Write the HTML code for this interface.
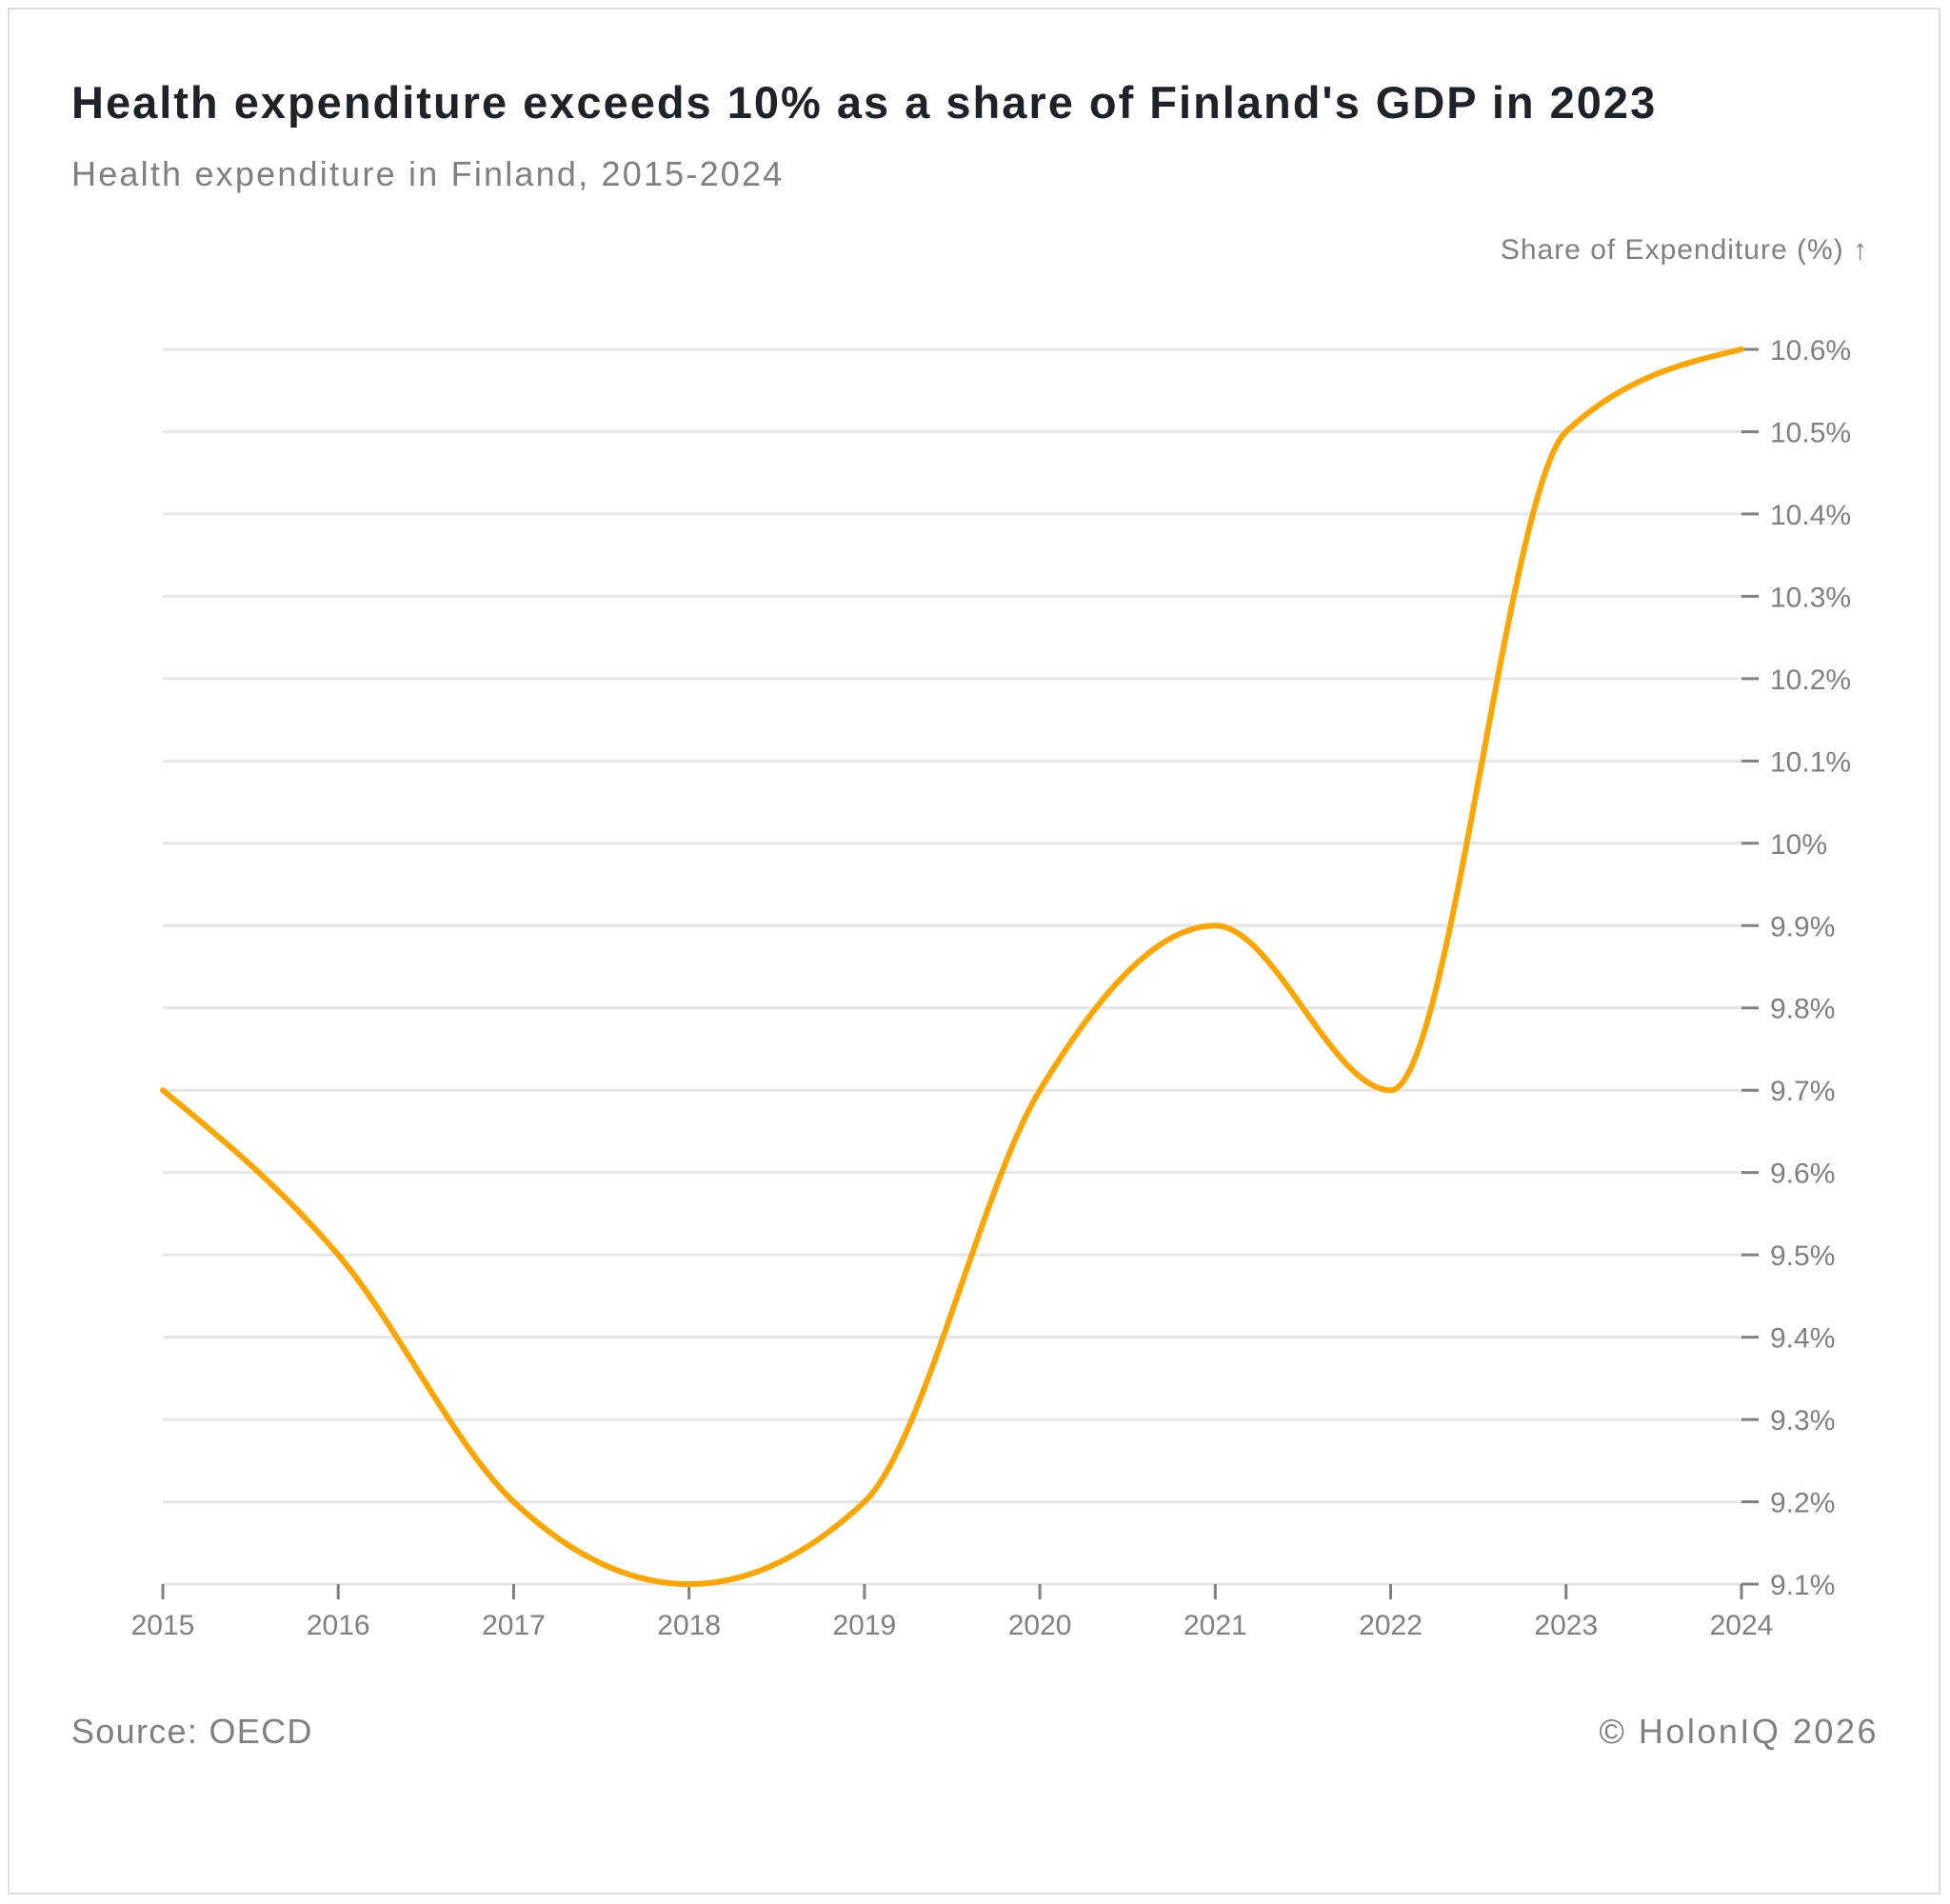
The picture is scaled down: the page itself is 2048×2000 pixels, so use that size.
<!DOCTYPE html>
<html><head><meta charset="utf-8"><style>
html,body{margin:0;padding:0;background:#fff;}
body{width:2048px;height:2000px;position:relative;font-family:"Liberation Sans",Arial,sans-serif;}
.frame{position:absolute;left:8px;top:8px;width:2030px;height:1982px;border:2px solid #ddd;box-sizing:border-box;}
.t{position:absolute;white-space:nowrap;}
</style></head><body>
<div class="frame"></div>
<div class="t" style="left:75px;top:80px;font-size:47px;font-weight:bold;color:#1f2328;letter-spacing:2px;">Health expenditure exceeds 10% as a share of Finland's GDP in 2023</div>
<div class="t" style="left:75px;top:162px;font-size:36px;color:#808080;letter-spacing:2.2px;">Health expenditure in Finland, 2015-2024</div>
<div class="t" style="left:75px;top:1798px;font-size:36px;color:#808080;letter-spacing:1.3px;">Source: OECD</div>
<div class="t" style="right:75px;top:1798px;font-size:36px;color:#808080;letter-spacing:2.5px;">© HolonIQ 2026</div>
<svg id="chart" width="2048" height="2000" style="position:absolute;left:0;top:0"></svg>
<script>
const years=[2015,2016,2017,2018,2019,2020,2021,2022,2023,2024];
const values=[9.7,9.5,9.2,9.1,9.2,9.7,9.9,9.7,10.5,10.6];
const yTicks=[9.1,9.2,9.3,9.4,9.5,9.6,9.7,9.8,9.9,10.0,10.1,10.2,10.3,10.4,10.5,10.6];
const yTickLabels=["9.1%","9.2%","9.3%","9.4%","9.5%","9.6%","9.7%","9.8%","9.9%","10%","10.1%","10.2%","10.3%","10.4%","10.5%","10.6%"];
const NS="http://www.w3.org/2000/svg";
const svg=document.getElementById('chart');
const X0=171,X1=1829,Y0=1664,Y1=367;
const xs=v=>X0+(v-2015)/(2024-2015)*(X1-X0);
const ys=v=>Y0-(v-9.1)/(10.6-9.1)*(Y0-Y1);
function mk(tag,attrs){const e=document.createElementNS(NS,tag);for(const k in attrs)e.setAttribute(k,attrs[k]);svg.appendChild(e);return e;}
yTicks.forEach((t,i)=>{
  const y=ys(t);
  const g=mk('line',{x1:X0,x2:X1,y1:y,y2:y,stroke:'#e6e6e6','stroke-width':3});
  
  
  const tk=mk('line',{x1:X1,x2:1847,y1:y,y2:y,stroke:'#808080','stroke-width':3});
  
  
  const tx=mk('text',{x:1859,y:y+11,'font-size':30,fill:'#808080','font-family':'Liberation Sans, sans-serif'});
  tx.textContent=yTickLabels[i];
  
  
});
years.forEach(yr=>{
  const x=xs(yr);
  const tk=mk('line',{x1:x,x2:x,y1:Y0,y2:Y0+16,stroke:'#808080','stroke-width':3});
  
  
  const tx=mk('text',{x:x,y:Y0+53,'font-size':30,fill:'#808080','text-anchor':'middle','font-family':'Liberation Sans, sans-serif'});
  tx.textContent=yr;
  
  
});
const at=mk('text',{x:1962,y:272,'font-size':30,fill:'#808080','text-anchor':'end','font-family':'Liberation Sans, sans-serif','letter-spacing':1});
at.textContent='Share of Expenditure (%) ↑';


const px=years.map(xs),py=values.map(ys),n=px.length;
const d=[],m=[];
for(let i=0;i<n-1;i++)d.push((py[i+1]-py[i])/(px[i+1]-px[i]));
for(let i=0;i<n;i++){
  if(i===0)m.push(d[0]);else if(i===n-1)m.push(d[n-2]);
  else{
    if(d[i-1]*d[i]<=0)m.push(0);
    else{const h0=px[i]-px[i-1],h1=px[i+1]-px[i];const p=(d[i-1]*h1+d[i]*h0)/(h0+h1);
      m.push((Math.sign(d[i-1])+Math.sign(d[i]))*Math.min(Math.abs(d[i-1]),Math.abs(d[i]),0.5*Math.abs(p)));}
  }
}
if(n>2){m[0]=(3*d[0]-m[1])/2;m[n-1]=(3*d[n-2]-m[n-2])/2;}
let path=`M${px[0]},${py[0]}`;
for(let i=0;i<n-1;i++){const h=(px[i+1]-px[i])/3;
  path+=` C${px[i]+h},${py[i]+m[i]*h} ${px[i+1]-h},${py[i+1]-m[i+1]*h} ${px[i+1]},${py[i+1]}`;}
const ln=mk('path',{d:path,fill:'none',stroke:'#FFA500','stroke-width':6,'stroke-linejoin':'round','stroke-linecap':'round'});


</script>
</body></html>
